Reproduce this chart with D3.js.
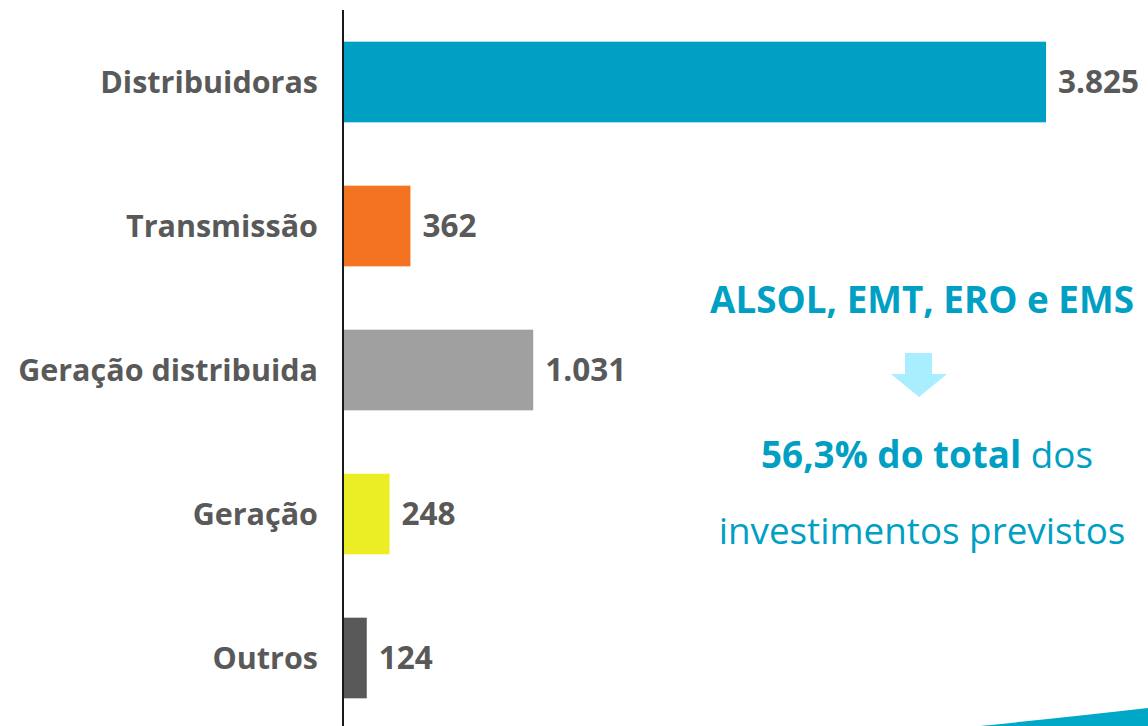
<!DOCTYPE html>
<html>
<head>
<meta charset="utf-8">
<script src="https://cdn.jsdelivr.net/npm/d3@7"></script>
<style>
  body { margin: 0; background: #fff; }
  svg { display: block; font-family: "Open Sans", sans-serif; }
</style>
</head>
<body>
<div id="chart"></div>
<script>
// Data
// ==============================
var categories = ["Distribuidoras", "Transmissão", "Geração distribuida", "Geração", "Outros"];
var values = [3825, 362, 1031, 248, 124];
var valueLabels = ["3.825", "362", "1.031", "248", "124"];
var barColors = ["#00A0C4", "#F47320", "#A0A0A0", "#EBEE24", "#595959"];

var svgWidth = 1148;
var svgHeight = 726;

var svg = d3.select("#chart")
  .append("svg")
  .attr("width", svgWidth)
  .attr("height", svgHeight);

// Scales
// ==============================
var x0 = 344;
var xScale = d3.scaleLinear()
  .domain([0, 3825])
  .range([x0, 1046]);

var yScale = d3.scaleBand()
  .domain(categories)
  .range([10, 730])
  .paddingInner(0.44)
  .paddingOuter(0.22);

// Bars
svg.selectAll("rect.bar")
  .data(categories)
  .enter()
  .append("rect")
  .attr("class", "bar")
  .attr("x", x0)
  .attr("y", d => yScale(d))
  .attr("width", (d, i) => xScale(values[i]) - x0)
  .attr("height", yScale.bandwidth())
  .attr("fill", (d, i) => barColors[i]);

// Category labels
svg.selectAll("text.cat")
  .data(categories)
  .enter()
  .append("text")
  .attr("class", "cat")
  .attr("x", 318)
  .attr("y", d => yScale(d) + yScale.bandwidth() / 2)
  .attr("dy", "0.36em")
  .attr("text-anchor", "end")
  .attr("font-size", 30.5)
  .attr("font-weight", "bold")
  .attr("fill", "#595959")
  .text(d => d);

// Value labels
svg.selectAll("text.val")
  .data(categories)
  .enter()
  .append("text")
  .attr("class", "val")
  .attr("x", (d, i) => xScale(values[i]) + 12)
  .attr("y", d => yScale(d) + yScale.bandwidth() / 2)
  .attr("dy", "0.36em")
  .attr("font-size", 31.5)
  .attr("font-weight", "bold")
  .attr("fill", "#595959")
  .text((d, i) => valueLabels[i]);

// Axis line
svg.append("line")
  .attr("x1", 343).attr("x2", 343)
  .attr("y1", 10).attr("y2", svgHeight)
  .attr("stroke", "#1a1a1a")
  .attr("stroke-width", 2);

// Annotation on the right
// ==============================
var teal = "#00A0C4";
svg.append("text")
  .attr("x", 922).attr("y", 313)
  .attr("text-anchor", "middle")
  .attr("font-size", 36.8)
  .attr("font-weight", "bold")
  .attr("fill", teal)
  .text("ALSOL, EMT, ERO e EMS");

svg.append("path")
  .attr("d", "M905,353 L932,353 L932,374 L947,374 L919,397 L891,374 L905,374 Z")
  .attr("fill", "#A9EEFF");

var line2 = svg.append("text")
  .attr("x", 927).attr("y", 468)
  .attr("text-anchor", "middle")
  .attr("font-size", 36.8)
  .attr("fill", teal);
line2.append("tspan").attr("font-weight", "bold").text("56,3% do total");
line2.append("tspan").text(" dos");

svg.append("text")
  .attr("x", 922).attr("y", 544)
  .attr("text-anchor", "middle")
  .attr("font-size", 36.8)
  .attr("fill", teal)
  .text("investimentos previstos");

// Decorative swoosh bottom right
svg.append("path")
  .attr("d", "M980,726 Q1060,718 1148,708 L1148,726 Z")
  .attr("fill", "#00A8C8");
</script>
</body>
</html>
